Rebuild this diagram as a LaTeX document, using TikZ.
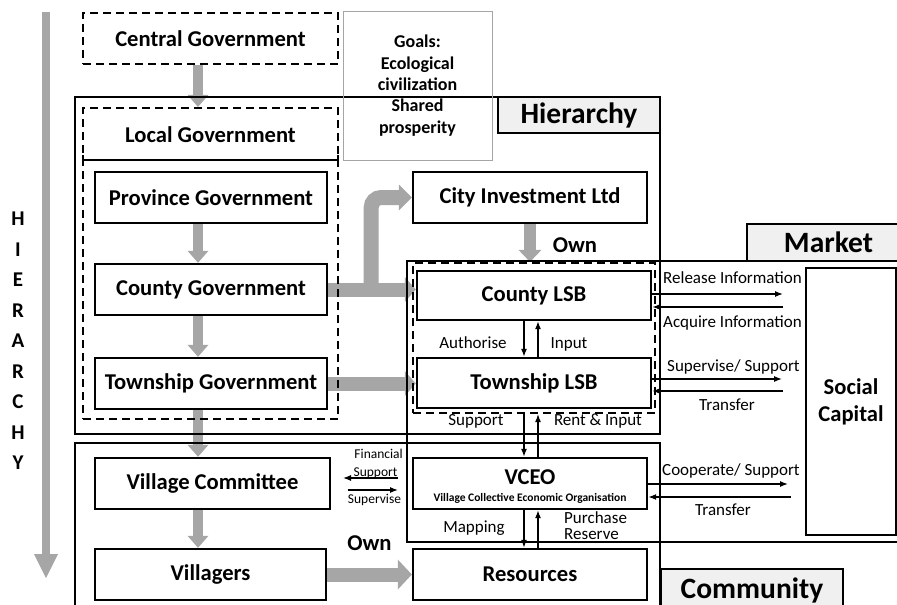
\documentclass[tikz,border=0pt]{standalone}
\usepackage{fontspec}
\setmainfont{Carlito}
\usetikzlibrary{arrows.meta,calc,backgrounds}
\definecolor{flowgray}{RGB}{166,166,166}
\definecolor{tabgray}{RGB}{240,240,240}
\definecolor{goalgray}{RGB}{165,165,165}

\begin{document}
\begin{tikzpicture}[x=1pt,y=-1pt,
  unit/.style={draw, line width=2.4pt, fill=white, inner sep=0pt, align=center,
    font=\bfseries\fontsize{22.6}{26}\selectfont},
  dashframe/.style={draw, line width=2.2pt, dash pattern=on 8pt off 5pt, inner sep=0pt},
  frame/.style={draw, line width=2pt, inner sep=0pt},
  tab/.style={draw, line width=2.4pt, fill=tabgray, inner sep=0pt,
    font=\bfseries\fontsize{29.5}{32}\selectfont},
  flow/.style={draw=flowgray, line width=10pt,
    -{Triangle[width=21pt,length=12pt,line width=0pt]}},
  wideflow/.style={draw=flowgray, line width=14pt,
    -{Triangle[width=25pt,length=11pt,line width=0pt]}},
  link/.style={draw, line width=1.3pt, -{Latex[length=8pt,width=6pt]}},
  note/.style={inner sep=0pt, font=\fontsize{17}{19}\selectfont},
  smallnote/.style={inner sep=0pt, font=\fontsize{13.5}{15}\selectfont},
  boldnote/.style={inner sep=0pt, font=\bfseries\fontsize{22.6}{26}\selectfont},
]
\useasboundingbox (0,0) rectangle (897,605);
\clip (0,0) rectangle (897,605);

% vertical axis of the hierarchy
\coordinate (axtop) at (46,12);
\coordinate (axbot) at (46,578);
\draw[draw=flowgray, line width=8pt,
  -{Triangle[width=24pt,length=24pt,line width=0pt]}] (axtop) -- (axbot);
\foreach \ch [count=\i from 0] in {H,I,E,R,A,R,C,H,Y}
  \node[boldnote, anchor=base, font=\bfseries\fontsize{21}{24}\selectfont]
    (hl\i) at (18,225.5+30.5*\i) {\ch};

% section frames
\node[frame, minimum width=585pt, minimum height=337pt] (hierframe) at (367.5,265.5) {};
\node[frame, minimum width=585pt, minimum height=197pt] (commframe) at (367.5,541.5) {};
\node[frame, minimum width=503pt, minimum height=281pt] (marketframe) at (658.5,401.5) {};

% goals
\node[draw=goalgray, line width=1pt, minimum width=149pt, minimum height=149pt,
  inner sep=0pt, align=center, font=\bfseries\fontsize{18}{21.4}\selectfont]
  (goals) at (417.5,85.5) {Goals:\\Ecological\\civilization\\Shared\\prosperity};

% section tabs
\node[tab, minimum width=162pt, minimum height=36pt] (hiertab) at (579,115) {Hierarchy};
\node[tab, minimum width=163pt, minimum height=37pt] (markettab) at (828.5,242.5) {Market};
\node[tab, minimum width=182pt, minimum height=43pt] (commtab) at (752,590.5) {Community};

% government chain
\node[unit, dash pattern=on 8pt off 5pt, minimum width=255pt, minimum height=51pt]
  (central) at (210.5,38.5) {Central Government};
\node[dashframe, minimum width=255pt, minimum height=311pt] (local) at (210.5,263.5) {};
\node[boldnote] (localtitle) at (210.5,134.5) {Local Government};
\coordinate (sep) at (0,160);
\draw[line width=2pt, {Bar[width=10pt]}-{Bar[width=10pt]}]
  (local.west |- sep) -- (local.east |- sep);
\node[unit, minimum width=232pt, minimum height=51pt] (prov) at (211,197.5) {Province Government};
\node[unit, minimum width=232pt, minimum height=51pt] (county) at (211,289.5) {County Government};
\node[unit, minimum width=232pt, minimum height=51pt] (town) at (211,383.5) {Township Government};

% land stock bodies
\node[unit, minimum width=234pt, minimum height=51pt] (city) at (530,197.5) {City Investment Ltd};
\node[dashframe, minimum width=242pt, minimum height=150pt] (lsb) at (534,338) {};
\node[unit, minimum width=234pt, minimum height=49pt] (clsb) at (534,295.5) {County LSB};
\node[unit, minimum width=234pt, minimum height=50pt] (tlsb) at (534,383) {Township LSB};

% community level
\node[unit, minimum width=235pt, minimum height=51pt] (vc) at (212.5,483.5) {Village Committee};
\node[unit, minimum width=234pt, minimum height=51pt] (vceo) at (530,483.5) {};
\node[boldnote] (vceoname) at (530,477) {VCEO};
\node[inner sep=0pt, font=\bfseries\fontsize{11.5}{13}\selectfont] (vceofull) at (530,498)
  {Village Collective Economic Organisation};
\node[unit, minimum width=231pt, minimum height=51pt] (villagers) at (210.5,574.5) {Villagers};
\node[unit, minimum width=234pt, minimum height=51pt] (resources) at (530,574.5) {Resources};

% gray flows
\coordinate (axis) at (198,0);
\begin{scope}[on background layer]
\draw[flow] (central.south -| axis) -- (local.north -| axis);
\draw[flow] (prov.south -| axis) -- (county.north -| axis);
\draw[flow] (county.south -| axis) -- (town.north -| axis);
\draw[flow] (town.south -| axis) -- (vc.north -| axis);
\draw[flow] (vc.south -| axis) -- (villagers.north -| axis);
\draw[flow, line width=12pt, -{Triangle[width=23pt,length=12pt,line width=0pt]}]
  (city.south) -- (city.south |- lsb.north);
\draw[wideflow] (county.east) -- (county.east -| clsb.west);
\draw[wideflow, line width=15pt, rounded corners=10pt,
  -{Triangle[width=26pt,length=13pt,line width=0pt]}]
  ($(county.east)+(43,0)$) |- (city.west);
\draw[wideflow] (town.east) -- (town.east -| tlsb.west);
\draw[wideflow, -{Triangle[width=30pt,length=14pt,line width=0pt]}]
  (villagers.east) -- (resources.west);
\end{scope}
\node[boldnote, anchor=base] (ownlsb) at (575,252) {Own};
\node[boldnote, anchor=base] (ownres) at (369.5,550) {Own};

% vertical exchanges
\coordinate (colA) at (524,0);
\coordinate (colB) at (538,0);
\draw[link] (clsb.south -| colA) -- (tlsb.north -| colA);
\draw[link] (tlsb.north -| colB) -- (clsb.south -| colB);
\draw[link] (lsb.south -| colA) -- (vceo.north -| colA);
\draw[link] (vceo.north -| colB) -- (lsb.south -| colB);
\draw[link] (vceo.south -| colA) -- (resources.north -| colA);
\draw[link] (resources.north -| colB) -- (vceo.south -| colB);
\node[note, anchor=base] (lauth) at (473,348) {Authorise};
\node[note, anchor=base] (linput) at (569,348) {Input};
\node[note, anchor=base] (lsupport) at (476,425) {Support};
\node[note, anchor=base] (lrent) at (598,425) {Rent \& Input};
\node[note, anchor=base] (lmap) at (474,532) {Mapping};
\node[note, anchor=base west] (lpurch) at (564,523) {Purchase};
\node[note, anchor=base west] (lreserve) at (564,539.5) {Reserve};

% village committee and VCEO
\coordinate (finR) at (398,478);
\coordinate (finL) at (343,478);
\coordinate (supL) at (348,490);
\coordinate (supR) at (398,490);
\draw[link, line width=1.2pt] (finR) -- (finL);
\draw[link, line width=1.2pt] (supL) -- (supR);
\node[smallnote, anchor=base east] (lfin) at (403,458) {Financial};
\node[smallnote, anchor=base] (lfinsup) at (375.5,476) {Support};
\node[smallnote, anchor=base] (lsupv) at (374.5,503) {Supervise};

% exchanges with the market
\coordinate (relEnd) at (783,294);
\coordinate (acqStart) at (783,307);
\coordinate (supEnd) at (782,379);
\coordinate (trStart) at (783,391);
\coordinate (coopEnd) at (788,484);
\coordinate (trTwoStart) at (791,497);
\draw[link] (clsb.east |- relEnd) -- (relEnd);
\draw[link] (acqStart) -- (clsb.east |- acqStart);
\draw[link] (tlsb.east |- supEnd) -- (supEnd);
\draw[link] (trStart) -- (tlsb.east |- trStart);
\draw[link] (vceo.east |- coopEnd) -- (coopEnd);
\draw[link] (trTwoStart) -- (vceo.east |- trTwoStart);
\node[note, anchor=base west] (lrel) at (663,283) {Release Information};
\node[note, anchor=base west] (lacq) at (663,327) {Acquire Information};
\node[note, anchor=base west] (lsupsup) at (667,371) {Supervise/ Support};
\node[note, anchor=base] (ltrans) at (727,410) {Transfer};
\node[note, anchor=base west] (lcoop) at (662,475) {Cooperate/ Support};
\node[note, anchor=base] (ltranstwo) at (723,515) {Transfer};

\node[unit, minimum width=90pt, minimum height=267pt,
  font=\bfseries\fontsize{22.6}{27}\selectfont] (social) at (851,401.5) {Social\\Capital};
\end{tikzpicture}
\end{document}
